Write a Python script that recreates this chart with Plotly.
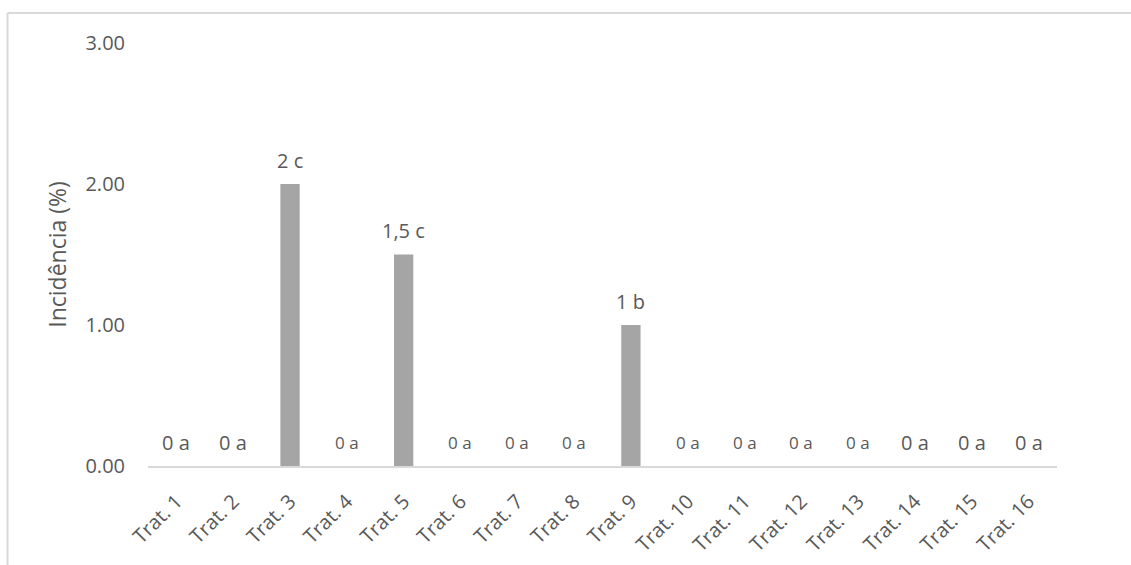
import plotly.graph_objects as go

# Treatments and measured incidence (%)
categories = [f"Trat. {i}" for i in range(1, 17)]
incidence = [0, 0, 2, 0, 1.5, 0, 0, 0, 1, 0, 0, 0, 0, 0, 0, 0]
letters = ["a", "a", "c", "a", "c", "a", "a", "a", "b", "a", "a", "a", "a", "a", "a", "a"]
label_sizes = [20, 20, 20, 17, 20, 17, 17, 17, 20, 17, 17, 17, 17, 20, 20, 20]
y_ticks = [0, 1, 2, 3]

TEXT = "#595959"
FONT = "Open Sans"

fig = go.Figure()
fig.add_trace(go.Bar(
    x=categories,
    y=incidence,
    marker=dict(color="#a5a5a5", line=dict(width=0)),
    width=0.34,
    hoverinfo="skip",
))

# value + significance letter above each bar
for cat, val, let, sz in zip(categories, incidence, letters, label_sizes):
    txt = f"{val:g}".replace(".", ",") + " " + let
    fig.add_annotation(
        x=cat, y=val, text=txt, showarrow=False,
        yanchor="middle", yshift=24,
        font=dict(family=FONT, size=sz, color=TEXT),
    )

# chart frame (left and top edges)
fig.add_shape(type="line", xref="paper", yref="paper",
              x0=(7.5 - 148) / 909, x1=(7.5 - 148) / 909,
              y0=(466 - 13) / 423, y1=(466 - 570) / 423,
              line=dict(color="#d9d9d9", width=2))
fig.add_shape(type="line", xref="paper", yref="paper",
              x0=(7.5 - 148) / 909, x1=(1135 - 148) / 909,
              y0=(466 - 13) / 423, y1=(466 - 13) / 423,
              line=dict(color="#d9d9d9", width=2))

fig.update_layout(
    width=1131, height=565,
    margin=dict(l=148, r=74, t=43, b=99),
    paper_bgcolor="white", plot_bgcolor="white",
    showlegend=False,
    font=dict(family=FONT, color=TEXT, size=19),
    xaxis=dict(
        type="category",
        automargin=False,
        tickangle=-45,
        showgrid=False,
        showline=True, linecolor="#d9d9d9", linewidth=1.5,
        ticks="", ticklabelstandoff=14,
        tickfont=dict(family=FONT, size=20, color=TEXT),
    ),
    yaxis=dict(
        range=[0, 3],
        automargin=False,
        tickvals=y_ticks,
        ticktext=[f"{v:.2f}" for v in y_ticks],
        showgrid=False, zeroline=False, showline=False,
        ticks="", ticklabelstandoff=22,
        tickfont=dict(family=FONT, size=20, color=TEXT),
        title=dict(text="Incidência (%)", standoff=12,
                   font=dict(family=FONT, size=23, color=TEXT)),
    ),
)

fig.write_html("out.html")
